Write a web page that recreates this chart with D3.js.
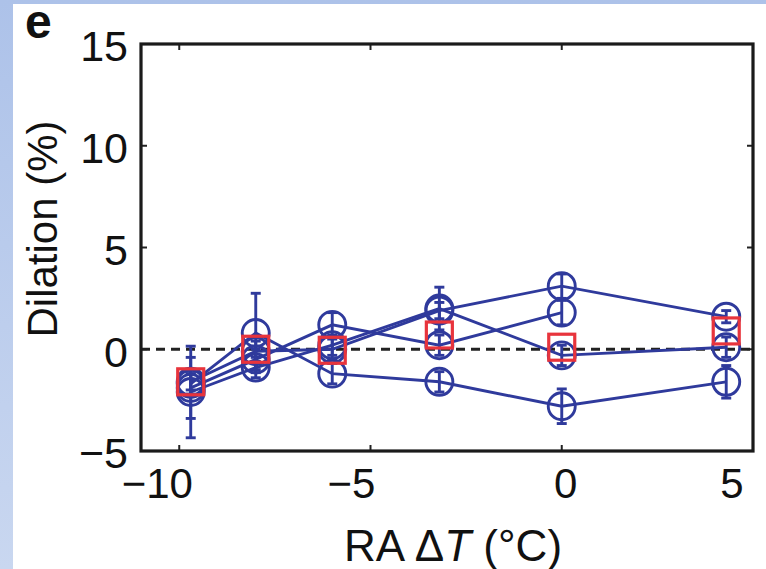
<!DOCTYPE html>
<html>
<head>
<meta charset="utf-8">
<script src="https://cdn.jsdelivr.net/npm/d3@7"></script>
<style>
  html, body { margin: 0; padding: 0; background: #fff; }
  svg { display: block; }
  text { font-family: "Liberation Sans", Arial, Helvetica, sans-serif; fill: #111; }
</style>
</head>
<body>
<svg id="chart" width="766" height="569"></svg>
<script>
// ---- data ----
const temps   = [-9.7, -8.0, -6.0, -3.2, 0.0, 4.3];
const seriesA = [-1.7, 0.8, -1.2, -1.6, -2.8, -1.6];
const seriesB = [-1.6, -0.1, 0.0, 1.9, 3.1, 1.6];
const seriesC = [-2.1, -0.9, 0.2, 2.0, -0.3, 0.1];
const seriesD = [-1.9, -0.5, 1.2, 0.2, 1.8, null];
const errA    = [0.5, 1.95, 0.5, 0.5, 0.85, 0.8];
const errB    = [0.4, 0.5, 0.5, 0.4, 0.6, 0.3];
const errC    = [2.25, 0.5, 0.5, 1.05, 0.5, 0.5];
const errD    = [1.5, 0.5, 0.6, 0.5, 0.6, null];
const meanValues = [-1.6, 0.0, -0.05, 0.7, 0.1, 0.9];
const xTicks = [-10, -5, 0, 5];
const yTicks = [-5, 0, 5, 10, 15];
const panelLabel = "e";
const yTitle = "Dilation (%)";

// ---- layout ----
const W = 766, H = 569;
const L = 141, R = 753, T = 44, B = 451;
const blue = "#2f3a9c", red = "#e8343c";

const svg = d3.select("#chart");

// background border (light blue)
const defs = svg.append("defs");
const grad = defs.append("linearGradient").attr("id", "bg").attr("x1", 0).attr("y1", 0).attr("x2", 0).attr("y2", 1);
grad.append("stop").attr("offset", "0%").attr("stop-color", "#adc2e9");
grad.append("stop").attr("offset", "100%").attr("stop-color", "#c9d7f0");
svg.append("rect").attr("width", W).attr("height", H).attr("fill", "url(#bg)");
svg.append("rect").attr("x", 13).attr("y", 4).attr("width", W - 13).attr("height", H - 4).attr("fill", "#fff");

const x = d3.scaleLinear().domain([-11, 5]).range([L, R]);
const y = d3.scaleLinear().domain([-5, 15]).range([B, T]);

// zero dashed line
svg.append("line")
  .attr("x1", x(-11)).attr("x2", x(5)).attr("y1", y(0)).attr("y2", y(0))
  .attr("stroke", "#222").attr("stroke-width", 3).attr("stroke-dasharray", "9,6");

// ticks (inward, all four sides)
const tickLen = 6;
const tg = svg.append("g").attr("stroke", "#222").attr("stroke-width", 2);
xTicks.forEach(v => {
  tg.append("line").attr("x1", x(v)).attr("x2", x(v)).attr("y1", B).attr("y2", B - tickLen);
  tg.append("line").attr("x1", x(v)).attr("x2", x(v)).attr("y1", T).attr("y2", T + tickLen);
});
yTicks.forEach(v => {
  tg.append("line").attr("y1", y(v)).attr("y2", y(v)).attr("x1", L).attr("x2", L + tickLen);
  tg.append("line").attr("y1", y(v)).attr("y2", y(v)).attr("x1", R).attr("x2", R - tickLen);
});

// series
const series = [
  {v: seriesA, e: errA},
  {v: seriesB, e: errB},
  {v: seriesC, e: errC},
  {v: seriesD, e: errD}
];
const line = d3.line()
  .defined(d => d.v !== null)
  .x(d => x(d.t)).y(d => y(d.v));

const sw = 2.9;
const sg = svg.append("g");
series.forEach(s => {
  const pts = temps.map((t, i) => ({t, v: s.v[i], e: s.e[i]}));
  sg.append("path").datum(pts).attr("d", line)
    .attr("fill", "none").attr("stroke", blue).attr("stroke-width", sw);
  const valid = pts.filter(d => d.v !== null);
  const cap = 5;
  valid.forEach(d => {
    const g = sg.append("g").attr("stroke", blue).attr("stroke-width", sw);
    g.append("line").attr("x1", x(d.t)).attr("x2", x(d.t)).attr("y1", y(d.v + d.e)).attr("y2", y(d.v - d.e));
    g.append("line").attr("x1", x(d.t) - cap).attr("x2", x(d.t) + cap).attr("y1", y(d.v + d.e)).attr("y2", y(d.v + d.e));
    g.append("line").attr("x1", x(d.t) - cap).attr("x2", x(d.t) + cap).attr("y1", y(d.v - d.e)).attr("y2", y(d.v - d.e));
  });
  sg.selectAll(null).data(valid).enter().append("circle")
    .attr("cx", d => x(d.t)).attr("cy", d => y(d.v)).attr("r", 13.5)
    .attr("fill", "none").attr("stroke", blue).attr("stroke-width", sw);
});

// mean squares
const sq = 26;
svg.append("g").selectAll("rect").data(temps.map((t, i) => ({t, v: meanValues[i]}))).enter()
  .append("rect")
  .attr("x", d => x(d.t) - sq / 2).attr("y", d => y(d.v) - sq / 2)
  .attr("width", sq).attr("height", sq)
  .attr("fill", "none").attr("stroke", red).attr("stroke-width", 3.2);

// frame
svg.append("rect").attr("x", L).attr("y", T).attr("width", R - L).attr("height", B - T)
  .attr("fill", "none").attr("stroke", "#1a1a1a").attr("stroke-width", 3.2);

// tick labels
const fmt = d3.format("");
const xLabelShift = {"-10": -22, "-5": -19, "0": 4, "5": -21};
svg.append("g").selectAll("text").data(xTicks).enter().append("text")
  .attr("x", d => x(d) + xLabelShift[d]).attr("y", 498)
  .attr("text-anchor", "middle").attr("font-size", 42)
  .text(d => fmt(d));

svg.append("g").selectAll("text").data(yTicks).enter().append("text")
  .attr("x", 128).attr("y", d => y(d) + 2).attr("dy", "0.36em")
  .attr("text-anchor", "end").attr("font-size", 43)
  .text(d => fmt(d));

// axis titles
const xt = svg.append("text").attr("x", 453).attr("y", 561)
  .attr("text-anchor", "middle").attr("font-size", 44);
xt.append("tspan").text("RA \u0394");
xt.append("tspan").attr("font-style", "italic").text("T");
xt.append("tspan").text(" (\u00B0C)");

svg.append("text").attr("transform", "translate(57,229) rotate(-90)")
  .attr("text-anchor", "middle").attr("font-size", 42)
  .text(yTitle);

// panel label
svg.append("text").attr("x", 25).attr("y", 38)
  .attr("font-size", 48).attr("font-weight", "bold").text(panelLabel);
</script>
</body>
</html>
